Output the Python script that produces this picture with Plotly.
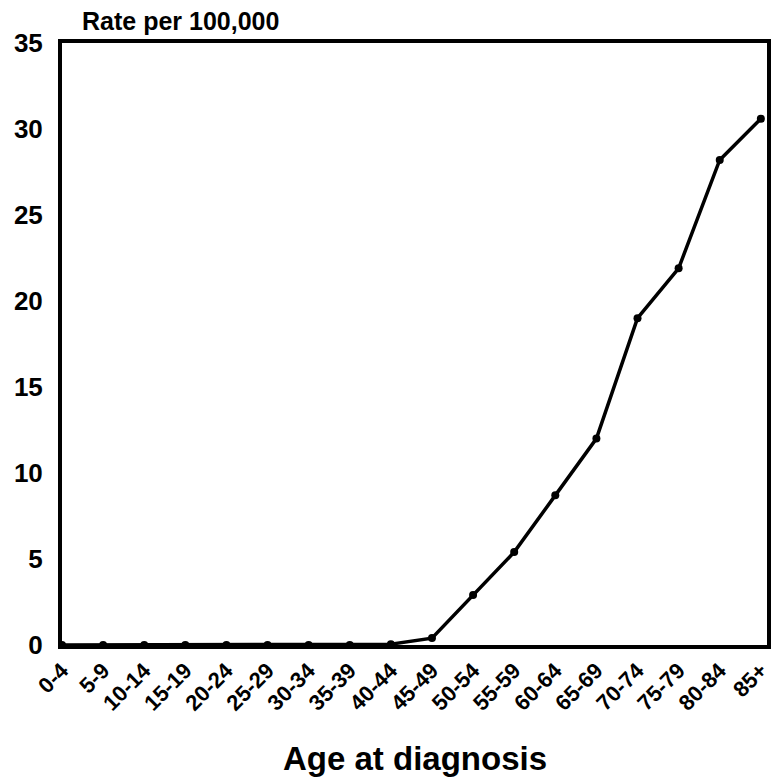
import plotly.graph_objects as go

age_groups = ['0-4', '5-9', '10-14', '15-19', '20-24', '25-29', '30-34', '35-39', '40-44',
              '45-49', '50-54', '55-59', '60-64', '65-69', '70-74', '75-79', '80-84', '85+']
rates = [0.0, 0.0, 0.0, 0.0, 0.0, 0.0, 0.0, 0.0, 0.05,
         0.4, 2.9, 5.4, 8.7, 12.0, 19.0, 21.9, 28.2, 30.6]
y_ticks = [0, 5, 10, 15, 20, 25, 30, 35]

font_name = 'Liberation Sans, Arial, sans-serif'

fig = go.Figure()
fig.add_trace(go.Scatter(
    x=age_groups,
    y=rates,
    mode='lines+markers',
    line=dict(color='black', width=3.5),
    marker=dict(color='black', size=8),
    cliponaxis=False,
))

# page body adds an 8px offset, so margins are shifted to compensate
fig.update_layout(
    width=783,
    height=782,
    paper_bgcolor='white',
    plot_bgcolor='white',
    showlegend=False,
    margin=dict(l=54, r=24, t=35, b=145),
    font=dict(family=font_name, color='black'),
    annotations=[
        dict(
            text='<b>Rate per 100,000</b>',
            xref='paper', yref='paper',
            x=0.026, y=1.036, xanchor='left', yanchor='middle',
            showarrow=False,
            font=dict(size=25, family=font_name, color='black'),
        ),
        dict(
            text='<b>Age at diagnosis</b>',
            xref='paper', yref='paper',
            x=0.5, y=-0.188, xanchor='center', yanchor='middle',
            showarrow=False,
            font=dict(size=33, family=font_name, color='black'),
        ),
    ],
)

fig.update_xaxes(
    type='category',
    range=[0, 17.15],
    tickangle=-45,
    tickfont=dict(size=22, family=font_name, color='black', weight='bold'),
    showgrid=False,
    showline=True, linecolor='black', linewidth=4, mirror=True,
    ticks='',
    automargin=False,
)
fig.update_yaxes(
    range=[0, 35],
    tickvals=y_ticks,
    tickfont=dict(size=26, family=font_name, color='black', weight='bold'),
    showgrid=False,
    zeroline=False,
    showline=True, linecolor='black', linewidth=4, mirror=True,
    ticks='',
    ticklabelstandoff=10,
    automargin=False,
)

fig.write_html("out.html")
